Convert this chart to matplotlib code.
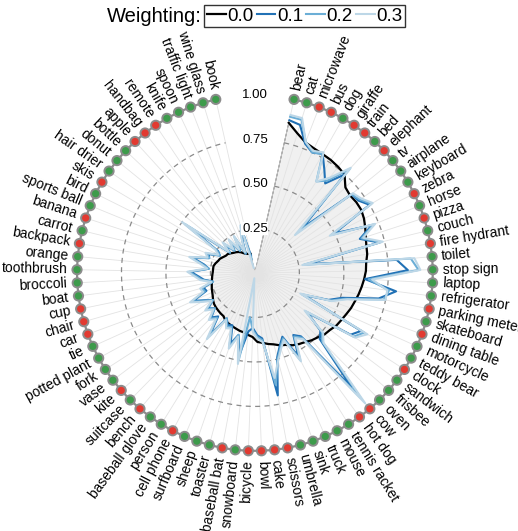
import numpy as np
import matplotlib
matplotlib.use("Agg")
import matplotlib.pyplot as plt

plt.rcParams['font.family'] = ['Liberation Sans', 'DejaVu Sans']

categories = [
    "bear", "cat", "microwave", "bus", "dog", "giraffe", "train", "bed",
    "elephant", "tv", "airplane", "keyboard", "zebra", "horse", "pizza",
    "couch", "fire hydrant", "toilet", "stop sign", "laptop", "refrigerator",
    "parking meter", "skateboard", "dining table", "motorcycle", "teddy bear",
    "clock", "sandwich", "frisbee", "oven", "cow", "hot dog", "tennis racket",
    "mouse", "truck", "sink", "umbrella", "scissors", "cake", "bowl",
    "bicycle", "snowboard", "baseball bat", "toaster", "sheep", "surfboard",
    "cell phone", "person", "baseball glove", "bench", "suitcase", "kite",
    "vase", "fork", "potted plant", "tie", "car", "chair", "cup", "boat",
    "broccoli", "toothbrush", "orange", "backpack", "carrot", "banana",
    "sports ball", "bird", "skis", "hair drier", "donut", "bottle", "apple",
    "handbag", "remote", "knife", "spoon", "traffic light", "wine glass", "book",
]

# g = green marker, r = red marker
status = list(
    "ggrrgrrgrgggrgrgrggggrgrggrgggrrgggggrrr"
    "rgrgggrggrgrggggrrrggggrgrggrgggrrrggggg"
)[:80]

w00 = [0.865, 0.820, 0.787, 0.775, 0.769, 0.765, 0.758, 0.748, 0.700, 0.690,
       0.695, 0.695, 0.685, 0.670, 0.655, 0.645, 0.640, 0.628, 0.624, 0.615,
       0.605, 0.595, 0.584, 0.575, 0.563, 0.553, 0.545, 0.530, 0.522, 0.506,
       0.495, 0.480, 0.470, 0.458, 0.440, 0.430, 0.415, 0.406, 0.395, 0.388,
       0.360, 0.350, 0.340, 0.336, 0.330, 0.325, 0.320, 0.315, 0.300, 0.298,
       0.295, 0.292, 0.288, 0.280, 0.270, 0.263, 0.258, 0.252, 0.248, 0.243,
       0.240, 0.237, 0.236, 0.236, 0.228, 0.218, 0.212, 0.200, 0.190, 0.186,
       0.175, 0.165, 0.158, 0.150, 0.140, 0.128, 0.120, 0.115, 0.112, 0.110]

w01 = [0.88, 0.87, 0.78, 0.75, 0.77, 0.70, 0.64, 0.75, 0.37, 0.70,
       0.71, 0.75, 0.50, 0.71, 0.62, 0.72, 0.30, 0.80, 0.86, 0.62,
       0.80, 0.71, 0.51, 0.44, 0.30, 0.68, 0.64, 0.37, 0.49, 0.52,
       0.84, 0.44, 0.41, 0.53, 0.39, 0.43, 0.49, 0.70, 0.37, 0.35,
       0.31, 0.33, 0.46, 0.36, 0.42, 0.32, 0.33, 0.30, 0.43, 0.32,
       0.35, 0.30, 0.33, 0.28, 0.32, 0.38, 0.29, 0.30, 0.24, 0.29,
       0.32, 0.36, 0.26, 0.29, 0.36, 0.27, 0.28, 0.22, 0.24, 0.45,
       0.18, 0.23, 0.17, 0.22, 0.15, 0.22, 0.12, 0.19, 0.25, 0.10]

w02 = [0.90, 0.90, 0.79, 0.75, 0.77, 0.62, 0.66, 0.79, 0.34, 0.70,
       0.72, 0.76, 0.48, 0.72, 0.63, 0.73, 0.28, 0.88, 0.92, 0.64,
       0.76, 0.74, 0.53, 0.45, 0.29, 0.70, 0.66, 0.36, 0.50, 0.54,
       0.92, 0.45, 0.42, 0.55, 0.40, 0.44, 0.50, 0.64, 0.38, 0.36,
       0.32, 0.25, 0.50, 0.36, 0.44, 0.33, 0.34, 0.30, 0.44, 0.33,
       0.36, 0.30, 0.34, 0.28, 0.33, 0.39, 0.30, 0.31, 0.24, 0.30,
       0.33, 0.37, 0.26, 0.30, 0.37, 0.27, 0.29, 0.22, 0.25, 0.48,
       0.18, 0.24, 0.17, 0.23, 0.15, 0.23, 0.12, 0.20, 0.27, 0.08]

w03 = [0.91, 0.91, 0.79, 0.76, 0.78, 0.62, 0.68, 0.80, 0.31, 0.71,
       0.73, 0.77, 0.47, 0.73, 0.64, 0.74, 0.27, 0.90, 0.93, 0.66,
       0.75, 0.75, 0.54, 0.46, 0.28, 0.72, 0.67, 0.35, 0.51, 0.55,
       0.96, 0.46, 0.43, 0.56, 0.41, 0.45, 0.51, 0.60, 0.39, 0.37,
       0.33, 0.03, 0.52, 0.37, 0.45, 0.34, 0.35, 0.31, 0.46, 0.34,
       0.37, 0.31, 0.35, 0.29, 0.34, 0.40, 0.31, 0.32, 0.25, 0.31,
       0.34, 0.38, 0.27, 0.31, 0.38, 0.28, 0.30, 0.23, 0.26, 0.50,
       0.19, 0.25, 0.18, 0.24, 0.16, 0.24, 0.13, 0.21, 0.28, 0.03]

weight_labels = ["0.0", "0.1", "0.2", "0.3"]
series_colors = ["black", "#2171b5", "#6baed6", "#bdd7e7"]
ring_ticks = [0.25, 0.50, 0.75]
tick_labels = ["0.25", "0.50", "0.75", "1.00"]

n_slots = 85
theta = 2 * np.pi * (np.arange(len(categories)) + 3) / n_slots

fig = plt.figure(figsize=(5.18, 5.31), dpi=100)
ax = fig.add_axes([0.1486, 0.1507, 0.687, 0.6704], projection="polar")
ax.set_theta_zero_location("N")
ax.set_theta_direction(-1)
ax.set_ylim(0, 1)
ax.spines["polar"].set_visible(False)
ax.grid(False)
ax.set_xticks([])
ax.set_yticks([])

# unweighted result as a filled region
ax.fill(np.r_[theta[0], theta, theta[-1]], np.r_[0, w00, 0],
        facecolor="#f0f0f0", edgecolor="black", lw=0.6, zorder=1)

# spokes for every category
for t in theta:
    ax.plot([t, t], [0, 1], color="#e3e3e3", lw=0.6, zorder=1.5)

# dashed reference arcs
arc = np.linspace(theta[0], theta[-1], 400)
for r in ring_ticks:
    ax.plot(arc, np.full_like(arc, r), color="#8a8a8a", lw=0.9,
            ls=(0, (4, 3.5)), zorder=1.6)

handles = []
h, = ax.plot(theta, w00, color=series_colors[0], lw=1.6, zorder=3)
handles.append(h)
for vals, col in zip([w01, w02, w03], series_colors[1:]):
    h, = ax.plot(theta, vals, color=col, lw=1.5, zorder=4)
    handles.append(h)

# outer ring of category markers
ax.plot(theta, np.ones_like(theta), color="#8c8c8c", lw=1.6, zorder=5,
        clip_on=False)
dot_colors = ["#3d9b4b" if s == "g" else "#e23a31" for s in status]
ax.scatter(theta, np.ones_like(theta), s=44, c=dot_colors,
           edgecolors="#8c8c8c", linewidths=1.4, zorder=6, clip_on=False)

# category labels, oriented along the radius
for t, name in zip(theta, categories):
    deg = np.degrees(t)
    phi = 90 - deg
    if deg < 180:
        rot, ha = phi, "left"
    else:
        rot, ha = phi + 180, "right"
    ax.text(t, 1.055, name, rotation=rot, rotation_mode="anchor",
            ha=ha, va="center", fontsize=10, clip_on=False)

# radial tick labels in the gap at the top
for r, lab in zip(ring_ticks + [1.0], tick_labels):
    ax.text(0, r, lab, ha="center", va="center", fontsize=9.5,
            bbox=dict(facecolor="white", edgecolor="none", pad=0.5),
            zorder=7)

fig.text(202 / 518, 1 - 16 / 531, "Weighting:", ha="right", va="center",
         fontsize=14.5)
fig.legend(handles, weight_labels, loc="center left",
           bbox_to_anchor=(204 / 518, 1 - 16 / 531), ncol=4, fontsize=13.5,
           frameon=True, fancybox=False, edgecolor="black",
           handlelength=1.0, handletextpad=0.1, columnspacing=0.15,
           borderpad=0.15, borderaxespad=0.0)

fig.savefig("out.png", dpi=100)
